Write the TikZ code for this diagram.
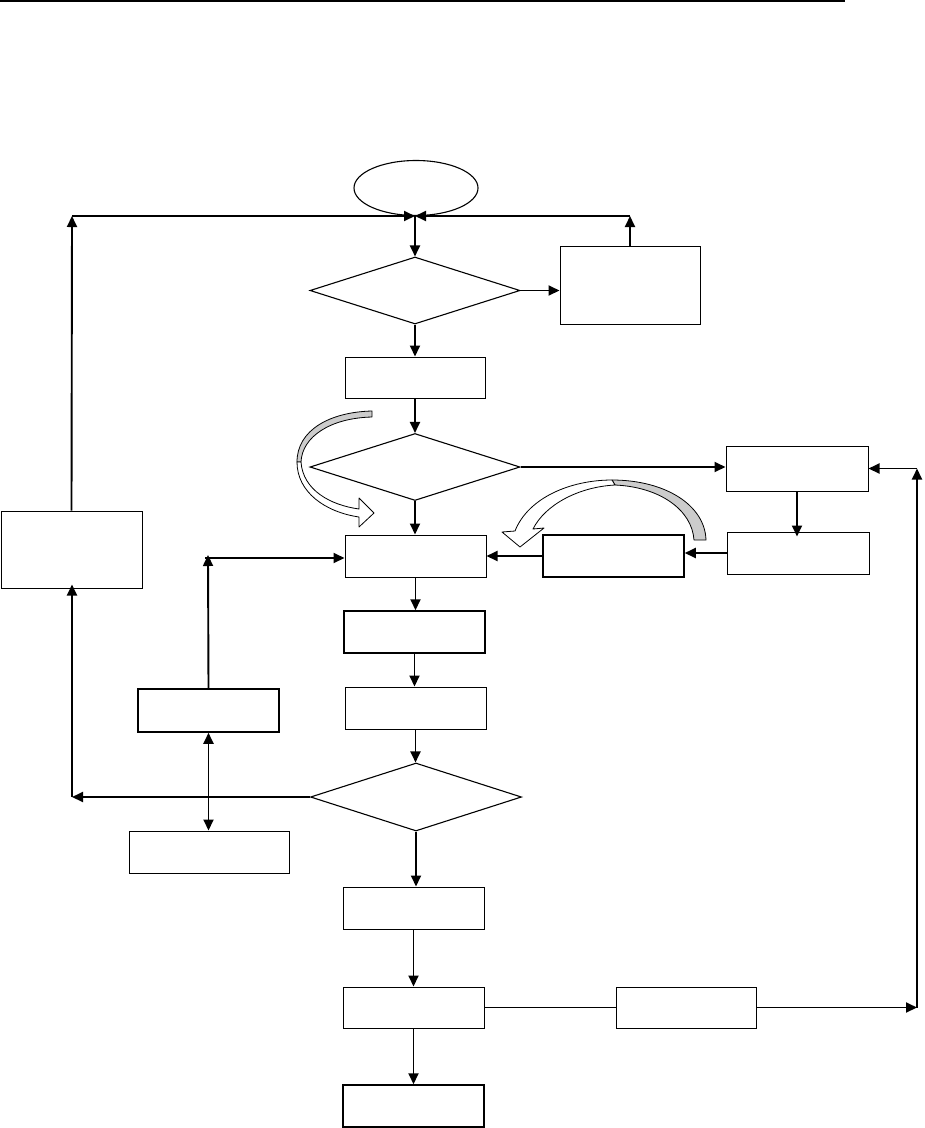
\documentclass[tikz,border=0pt]{standalone}
\usetikzlibrary{arrows.meta,shapes.geometric}
\begin{document}
\begin{tikzpicture}[x=1pt,y=-1pt,
  box/.style={draw,line width=1pt,rectangle,inner sep=0pt,fill=white},
  thickbox/.style={box,line width=1.5pt},
  dia/.style={draw,line width=1.1pt,diamond,inner sep=0pt,minimum width=210pt,minimum height=67pt},
  conn/.style={line width=1.9pt},
  arr/.style={conn,-{Triangle[length=11pt,width=10pt]}},
  darr/.style={conn,{Triangle[length=11pt,width=10pt]}-{Triangle[length=11pt,width=10pt]}},
  band/.style={draw,line width=0.8pt,line join=round}]
\useasboundingbox (0,0) rectangle (925,1128);
% top rule
\draw[line width=2pt] (0,1) -- (845,1);

% nodes
\node[draw,ellipse,line width=1.1pt,minimum width=124pt,minimum height=55pt,inner sep=0pt] (start) at (416,188) {};
\node[dia] (d1) at (415,290.5) {};
\node[box,minimum width=140pt,minimum height=78pt] (b1) at (630,285) {};
\node[box,minimum width=140pt,minimum height=41pt] (b2) at (415,377.5) {};
\node[dia] (d2) at (415,467) {};
\node[box,minimum width=142pt,minimum height=45pt] (r1) at (797,468.5) {};
\node[box,minimum width=142pt,minimum height=42pt] (r2) at (798,553) {};
\node[thickbox,minimum width=141pt,minimum height=42pt] (m) at (613.5,556) {};
\node[box,minimum width=141pt,minimum height=42pt] (b3) at (415.5,556) {};
\node[thickbox,minimum width=141pt,minimum height=42pt] (b4) at (414.5,632) {};
\node[box,minimum width=141pt,minimum height=42pt] (b5) at (415.5,708) {};
\node[dia,minimum width=211pt,minimum height=68pt] (d3) at (416,797) {};
\node[box,minimum width=141pt,minimum height=77pt] (lb) at (71.5,549.5) {};
\node[thickbox,minimum width=141pt,minimum height=43pt] (l1) at (208.5,710.5) {};
\node[box,minimum width=160pt,minimum height=42pt] (l2) at (209,852) {};
\node[box,minimum width=141pt,minimum height=42pt] (b6) at (413.5,908) {};
\node[box,minimum width=141pt,minimum height=41pt] (b7) at (413.5,1007.5) {};
\node[thickbox,minimum width=141pt,minimum height=42pt] (b8) at (413.5,1106) {};
\node[box,minimum width=140pt,minimum height=41pt] (bb) at (686,1007.5) {};

% junction coordinates
\coordinate (J) at (415,216);
\coordinate (LC) at (72,216);
\coordinate (RC) at (630,216);
\coordinate (LB) at (72,797);
\coordinate (LT) at (208,558);
\coordinate (RB) at (917,1007.5);
\coordinate (RT) at (917,468.5);

% connectors
\draw[arr] (lb.north) -- (LC);
\draw[arr] (LC) -- (J);
\draw[arr] (b1.north) -- (RC);
\draw[arr] (RC) -- (J);
\draw[arr] (J) -- (d1.north);
\draw[arr] (d1.east) -- (d1.east -| b1.west);
\draw[arr] (d1.south) -- (d1.south |- b2.north);
\draw[arr] (b2.south) -- (b2.south |- d2.north);
\draw[arr] (d2.east) -- (d2.east -| r1.west);
\draw[arr] (d2.south) -- (d2.south |- b3.north);
\draw[arr] (r1.south) -- ([yshift=-5pt]r1.south |- r2.north);
\draw[arr] (r2.west) -- (r2.west -| m.east);
\draw[arr] (m.west) -- (m.west -| b3.east);
\draw[arr] (b3.south) -- (b3.south |- b4.north);
\draw[arr] (b4.south) -- (b4.south |- b5.north);
\draw[arr] (b5.south) -- (b5.south |- d3.north);
\draw[arr] (d3.west) -- (LB);
\draw[arr] (LB) -- ([yshift=4pt]LB |- lb.south);
\draw[arr] (l1.north) -- ([yshift=3pt]LT);
\draw[arr] ([xshift=-3pt]LT) -- (LT -| b3.west);
\draw[darr] (l1.south) -- (l1.south |- l2.north);
\draw[arr] (d3.south) -- (d3.south |- b6.north);
\draw[arr] (b6.south) -- (b6.south |- b7.north);
\draw[arr] (b7.south) -- (b7.south |- b8.north);
\draw[conn] (b7.east) -- (bb.west);
\draw[arr] (bb.east) -- (RB);
\draw[arr] (RB) -- (RT);
\draw[arr] (RT) -- (r1.east);

% curved block arrow (left)
\filldraw[band,fill=gray!40] (372,411) .. controls (330,412) and (297,430) .. (297,462)
  -- (301,462) .. controls (302,437) and (330,418) .. (372,417) -- cycle;
\filldraw[band,fill=white] (297,462) .. controls (297,492) and (325,512) .. (359,517)
  -- (359,527) -- (374,513) -- (359,498) -- (359,509)
  .. controls (330,505) and (303,490) .. (301,462) -- cycle;

% curved block arrow (right)
\filldraw[band,fill=gray!40] (612,480) .. controls (665,480) and (705,505) .. (706,540)
  -- (694,540) .. controls (692,510) and (660,487) .. (615,485) -- cycle;
\filldraw[band,fill=white] (612,480) .. controls (570,480) and (528,498) .. (515,531)
  -- (502,532) -- (520,547) -- (544,528) -- (533,529)
  .. controls (545,505) and (578,487) .. (615,485) -- cycle;
\end{tikzpicture}
\end{document}
